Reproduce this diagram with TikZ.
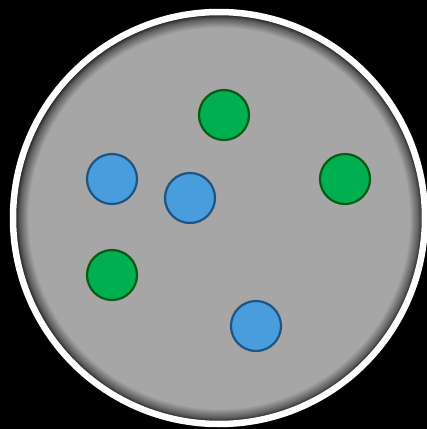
\documentclass[tikz,border=0pt]{standalone}
\usepackage{tikz}
\usetikzlibrary{shapes.geometric}
\definecolor{dishgray}{RGB}{166, 166, 166}
\definecolor{dotblue}{RGB}{74, 157, 220}
\definecolor{dotblueline}{RGB}{30, 84, 130}
\definecolor{dotgreen}{RGB}{0, 176, 80}
\definecolor{dotgreenline}{RGB}{10, 90, 20}
\pgfdeclareradialshading{dishshade}{\pgfpoint{0bp}{0bp}}{%
  color(0bp)=(dishgray); color(23.1bp)=(dishgray);
  color(24.2bp)=(dishgray!55!black); color(25bp)=(black); color(50bp)=(black)}

\begin{document}
\begin{tikzpicture}[
  x=1pt, y=-1pt,
  dish/.style    = {circle, draw=white, line width=6.5pt, shading=dishshade,
                    minimum size=412pt, inner sep=0pt},
  dot/.style     = {circle, line width=2.2pt, minimum size=50pt, inner sep=0pt},
  bluedot/.style = {dot, fill=dotblue, draw=dotblueline},
  greendot/.style= {dot, fill=dotgreen, draw=dotgreenline}
]

%% Background
\fill[black] (0,0) rectangle (427,429);
\useasboundingbox (0,0) rectangle (427,429);

%% Dish
\node[dish] (dish) at (219,218) {};

%% Blue dots
\node[bluedot] (blueA) at (112,179) {};
\node[bluedot] (blueB) at (190,198) {};
\node[bluedot] (blueC) at (256,326) {};

%% Green dots
\node[greendot] (greenA) at (224,115) {};
\node[greendot] (greenB) at (345,179) {};
\node[greendot] (greenC) at (112,275) {};

\end{tikzpicture}
\end{document}
